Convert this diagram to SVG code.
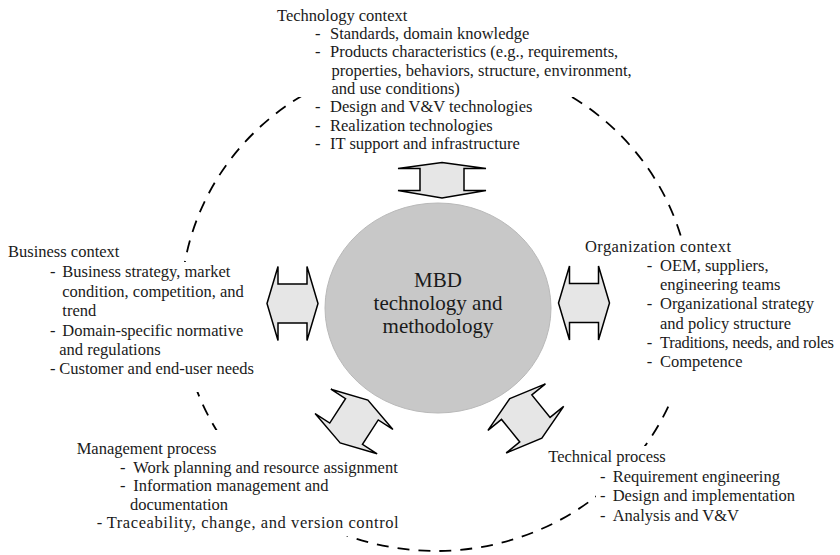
<svg xmlns="http://www.w3.org/2000/svg" width="840" height="555" viewBox="0 0 840 555">
  <style>
    .t { font-family: "Liberation Serif", "Times New Roman", serif; font-size: 16.5px; fill: #1a1a1a; }
    .core { font-family: "Liberation Serif", "Times New Roman", serif; font-size: 21px; fill: #1a1a1a; text-anchor: middle; }
    .arrow { fill: #e6e6e6; stroke: #000; stroke-width: 1.5; stroke-linejoin: miter; }
    .bg { fill: #fff; }
    .ring { fill: none; stroke: #000; stroke-width: 1.8; stroke-dasharray: 12 9; }
  </style>
  <defs>
    <polygon id="dbl" points="-25.5,0 -14.5,-37 -14.5,-19.5 14.5,-19.5 14.5,-37 25.5,0 14.5,37 14.5,19.5 -14.5,19.5 -14.5,37"/>
  </defs>
  <rect width="840" height="555" fill="#fff"/>

  <g id="boundary">
    <ellipse class="ring" cx="436" cy="305" rx="255" ry="246"/>
  </g>

  <g id="tech-context">
    <rect class="bg" x="270" y="2" width="345" height="95"/>
    <text class="t" x="277" y="20.7">Technology context</text>
    <text class="t" x="315" y="39">-<tspan x="330">Standards, domain knowledge</tspan></text>
    <text class="t" x="315" y="57.3">-<tspan x="330">Products characteristics (e.g., requirements,</tspan></text>
    <text class="t" x="331.5" y="75.6">properties, behaviors, structure, environment,</text>
    <text class="t" x="331.5" y="93.9">and use conditions)</text>
    <text class="t" x="315" y="112.2">-<tspan x="330">Design and V&amp;V technologies</tspan></text>
    <text class="t" x="315" y="130.5">-<tspan x="330">Realization technologies</tspan></text>
    <text class="t" x="315" y="148.8">-<tspan x="330">IT support and infrastructure</tspan></text>
  </g>

  <g id="business-context">
    <rect class="bg" x="0" y="262" width="275" height="130"/>
    <text class="t" x="8" y="257.3">Business context</text>
    <text class="t" x="50" y="277">-<tspan x="62.3">Business strategy, market</tspan></text>
    <text class="t" x="62.3" y="296.5">condition, competition, and</text>
    <text class="t" x="62.3" y="316">trend</text>
    <text class="t" x="50" y="335.5">-<tspan x="62.3">Domain-specific normative</tspan></text>
    <text class="t" x="59.3" y="355">and regulations</text>
    <text class="t" x="50" y="374">-<tspan x="59.3">Customer and end-user needs</tspan></text>
  </g>

  <g id="org-context">
    <rect class="bg" x="580" y="236" width="260" height="168"/>
    <text class="t" x="585" y="251.7" textLength="146" lengthAdjust="spacing">Organization context</text>
    <text class="t" x="646.7" y="271">-<tspan x="660">OEM, suppliers,</tspan></text>
    <text class="t" x="660" y="290.2">engineering teams</text>
    <text class="t" x="646.7" y="309.4">-<tspan x="660">Organizational strategy</tspan></text>
    <text class="t" x="660" y="328.6">and policy structure</text>
    <text class="t" x="646.7" y="347.8">-<tspan x="660" textLength="174" lengthAdjust="spacing">Traditions, needs, and roles</tspan></text>
    <text class="t" x="646.7" y="367">-<tspan x="660">Competence</tspan></text>
  </g>

  <g id="mgmt-process">
    <rect class="bg" x="70" y="430" width="335" height="106"/>
    <text class="t" x="76.7" y="454">Management process</text>
    <text class="t" x="120" y="472.5">-<tspan x="133.3">Work planning and resource assignment</tspan></text>
    <text class="t" x="120" y="491">-<tspan x="133.3">Information management and</tspan></text>
    <text class="t" x="130" y="509.5">documentation</text>
    <text class="t" x="96.7" y="528">-<tspan x="106.7" textLength="292" lengthAdjust="spacing">Traceability, change, and version control</tspan></text>
  </g>

  <g id="tech-process">
    <rect class="bg" x="545" y="446" width="125" height="20"/>
    <rect class="bg" x="596" y="466" width="210" height="62"/>
    <text class="t" x="548.3" y="461.7">Technical process</text>
    <text class="t" x="600" y="481.5">-<tspan x="612.7">Requirement engineering</tspan></text>
    <text class="t" x="600" y="501.3">-<tspan x="612.7">Design and implementation</tspan></text>
    <text class="t" x="600" y="521">-<tspan x="612.7">Analysis and V&amp;V</tspan></text>
  </g>

  <g id="mbd-core">
    <ellipse cx="438" cy="308" rx="113" ry="105" fill="#c8c8c8" stroke="#b9b9b9" stroke-width="1"/>
    <text class="core" x="438" y="286.5">MBD</text>
    <text class="core" x="438" y="309.5">technology and</text>
    <text class="core" x="438" y="332.5">methodology</text>
  </g>

  <g id="connectors">
    <polygon class="arrow" points="442,162.5 486,168.5 464,168.5 464,190.5 486,190.5 442,198 398,190.5 420,190.5 420,168.5 398,168.5"/>
    <use class="arrow" href="#dbl" transform="translate(292.5,303.5)"/>
    <use class="arrow" href="#dbl" transform="translate(584,303)"/>
    <use class="arrow" href="#dbl" transform="translate(354,421.5) rotate(-57)"/>
    <use class="arrow" href="#dbl" transform="translate(525.8,418.4) rotate(51)"/>
  </g>
</svg>
